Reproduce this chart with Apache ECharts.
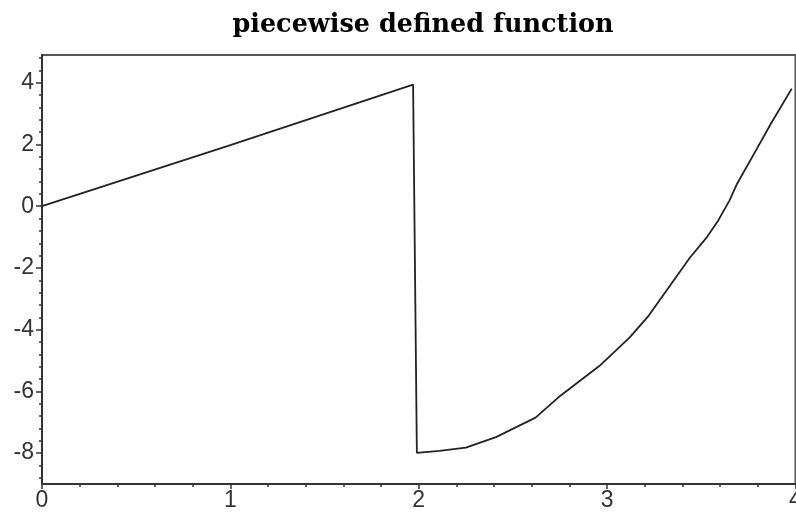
<!DOCTYPE html>
<html>
<head>
<meta charset="utf-8">
<script src="https://cdn.jsdelivr.net/npm/echarts@6/dist/echarts.min.js"></script>
<style>
  html, body { margin: 0; padding: 0; background: #fff; }
  #chart { width: 796px; height: 513px; }
</style>
</head>
<body>
<div id="chart"></div>
<script>
// values
var xs = [0, 1, 1.97, 1.99, 2.11, 2.25, 2.41, 2.62, 2.74, 2.96, 3.12, 3.22, 3.34, 3.44, 3.53, 3.59, 3.65, 3.69, 3.79, 3.87, 3.98]
var ys = [0, 1.98, 3.94, -7.99, -7.93, -7.82, -7.48, -6.85, -6.2, -5.17, -4.25, -3.55, -2.52, -1.66, -1.0, -0.46, 0.19, 0.73, 1.81, 2.68, 3.81]
var yTicks = [-8, -6, -4, -2, 0, 2, 4]
var xTicks = [0, 1, 2, 3, 4]

var chart = echarts.init(document.getElementById('chart'))

// minor ticks on y every 0.4 between the labelled ones
var yMinor = []
for (var i = -22; i <= 12; i++) {
  var v = Math.round(i * 0.4 * 10) / 10
  if (yTicks.indexOf(v) < 0) yMinor.push(v)
}

var data = xs.map(function(x, i) {
  return [x, ys[i]]
})

var labelFont = {
  fontFamily: 'Liberation Sans',
  fontSize: 23,
  color: '#333'
}

chart.setOption({
  animation: false,
  title: {
    text: 'piecewise defined function',
    left: 418,
    top: 7,
    textAlign: 'center',
    textStyle: {
      fontFamily: 'DejaVu Serif',
      fontWeight: 'bold',
      fontSize: 25.5,
      color: '#000'
    }
  },
  grid: {
    left: 42,
    right: 0.5,
    top: 55,
    bottom: 29,
    outerBoundsMode: 'none',
    show: true,
    borderColor: '#555',
    borderWidth: 2
  },
  xAxis: {
    type: 'value',
    min: 0,
    max: 4,
    interval: 1,
    axisLine: { onZero: false, lineStyle: { color: '#333', width: 2 } },
    axisTick: { length: 5, lineStyle: { color: '#333', width: 1.5 } },
    minorTick: { show: true, splitNumber: 5, length: 3, lineStyle: { color: '#333', width: 1.5 } },
    splitLine: { show: false },
    axisLabel: Object.assign({ margin: 5, customValues: xTicks }, labelFont)
  },
  yAxis: [{
    type: 'value',
    min: -9,
    max: 4.9,
    axisLine: { show: true, onZero: false, lineStyle: { color: '#333', width: 2 } },
    axisTick: { show: true, length: 6, customValues: yTicks, lineStyle: { color: '#333', width: 1.5 } },
    splitLine: { show: false },
    axisLabel: Object.assign({ margin: 8, customValues: yTicks }, labelFont)
  }, {
    type: 'value',
    min: -9,
    max: 4.9,
    position: 'left',
    axisLine: { show: false },
    axisTick: { show: true, length: 3, customValues: yMinor, lineStyle: { color: '#333', width: 1.5 } },
    splitLine: { show: false },
    axisLabel: { show: false }
  }],
  series: [{
    type: 'line',
    data: data,
    showSymbol: false,
    lineStyle: { color: '#222', width: 1.8 }
  }]
})
</script>
</body>
</html>
